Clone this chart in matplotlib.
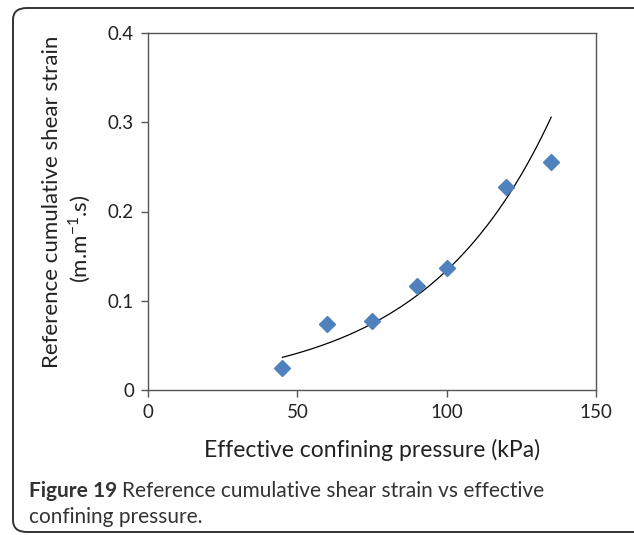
import numpy as np
import matplotlib
matplotlib.use("Agg")
import matplotlib.pyplot as plt
from matplotlib.patches import FancyBboxPatch

plt.rcParams['font.family'] = ['Lato', 'DejaVu Sans']
plt.rcParams['axes.unicode_minus'] = False

# data
pressure = np.array([45, 60, 75, 90, 100, 120, 135])          # kPa
strain = np.array([0.025, 0.074, 0.077, 0.116, 0.137, 0.227, 0.256])

xticks = [0, 50, 100, 150]
yticks = [0, 0.1, 0.2, 0.3, 0.4]
ytick_labels = ["0", "0.1", "0.2", "0.3", "0.4"]

# exponential trend line fitted to the points (like Excel's trendline)
b, ln_a = np.polyfit(pressure, np.log(strain), 1)
xfit = np.linspace(pressure.min(), pressure.max(), 200)
yfit = np.exp(ln_a) * np.exp(b * xfit)

W, H = 634, 535
fig = plt.figure(figsize=(W/100, H/100), dpi=100)

# rounded frame around the whole figure (right edge runs off the image)
frame = FancyBboxPatch((13/W, 3/H), 640/W, 524/H,
                       boxstyle="round,pad=0,rounding_size=0.022",
                       transform=fig.transFigure, fill=False,
                       edgecolor="#333333", linewidth=1.4)
fig.patches.append(frame)

ax = fig.add_axes([148/W, (H-390)/H, 448/W, 357/H])
ax.plot(xfit, yfit, color="black", lw=0.9, zorder=2)
ax.plot(pressure, strain, ls="none", marker="D", ms=8,
        color="#4F81BD", mec="#4F81BD", zorder=3)

ax.set_xlim(0, 150)
ax.set_ylim(0, 0.4)
ax.set_xticks(xticks)
ax.set_yticks(yticks)
ax.set_yticklabels(ytick_labels)
for s in ax.spines.values():
    s.set_color("#555555")
    s.set_linewidth(1.0)
ax.tick_params(direction="out", length=5, width=1, color="#555555",
               labelsize=13.5, labelcolor="#222222", pad=5)

ax.set_xlabel("Effective confining pressure (kPa)", fontsize=16.5,
              color="#222222", labelpad=13)

# y label: two lines, second one sits a bit lower than the first
fig.text(52/W, 1 - 202/H, "Reference cumulative shear strain",
         rotation=90, fontsize=16, color="#222222", ha="center", va="center")
fig.text(80/W, 1 - 239/H, "(m.m$^{\\mathregular{-1}}$.s)",
         rotation=90, fontsize=16, color="#222222", ha="center", va="center")

cap_font = dict(fontsize=15, color="#333333", va="baseline")
t1 = fig.text(29/W, 1 - 497/H, "Figure 19", fontweight="bold", **cap_font)
fig.canvas.draw()
bb = t1.get_window_extent()
fig.text((bb.x1 + 5)/W, 1 - 497/H,
         "Reference cumulative shear strain vs effective", **cap_font)
fig.text(29/W, 1 - 523/H, "confining pressure.", **cap_font)

fig.savefig("out.png", dpi=100)
